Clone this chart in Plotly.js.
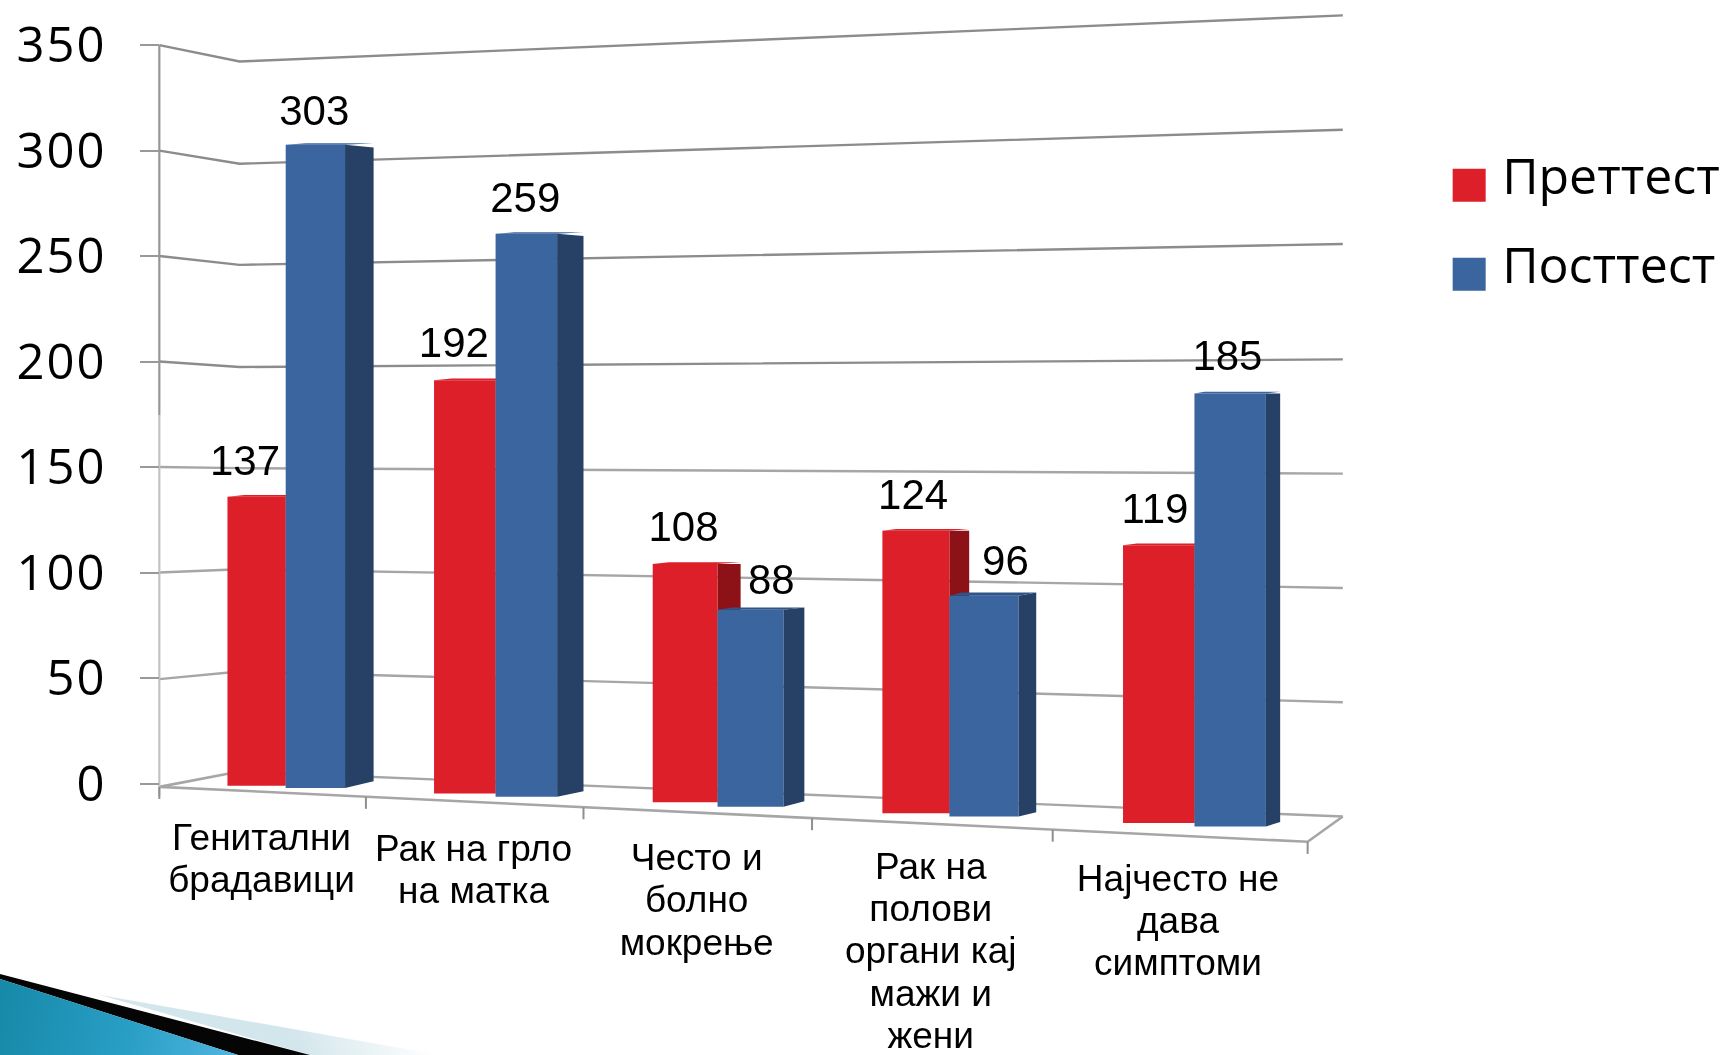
<!DOCTYPE html>
<html><head><meta charset="utf-8">
<script src="https://cdn.plot.ly/plotly-3.0.1.min.js"></script>
<style>
html,body{margin:0;padding:0;background:#fff;overflow:hidden}
#chart{width:1723px;height:1055px;filter:blur(0.4px)}
.ytick text{letter-spacing:2px}
</style></head><body><div id="chart"></div>
<script>
// ---- data ----
const categoryLines = [
  ['Генитални','брадавици'],
  ['Рак на грло','на матка'],
  ['Често и','болно','мокрење'],
  ['Рак на','полови','органи кај','мажи и','жени'],
  ['Најчесто не','дава','симптоми']
];
const pretest  = [137,192,108,124,119];
const posttest = [303,259,88,96,185];
const yTicks   = [0,50,100,150,200,250,300,350];
const seriesNames = ['Преттест','Посттест'];

// ---- perspective geometry (reference units: 1568 wide, 960 high) ----
const W = 1568, H = 960, ZERO = 713, UNIT = 1.92;
const Y = s => (ZERO - s) / UNIT;
const redPersp  = [1.0,1.02,1.046,1.08,1.107];
const bluePersp = [1.006,1.03,1.06,1.09,1.109];
const redL  = [207,395,594,803,1022];
const midX  = [260,451,653,864,1087];
const blueR = [314,507,713,927,1152];
const blueBack = [340,531,732,943,1165];
const redBack  = [282,474,674,882,1105];
const redBase  = [715,722,730,740,749];
const blueBase = [717,725,734,743,752];
const backRise = [-2.5,-2,2,3,0];
const baseRise = [6,5,5,4,4];
const labelRedX  = [223,413,622,831,1051];
const labelBlueX = [286,478,702,915,1117];
const labelRedDy  = [29,31,30,29,30];
const labelBlueDy = [28,29,24,28,31];
const wallX = [145,218,1222];
const gridAxis   = [713,618,521,425,329,233,137,41];
const gridCorner = [702,611,518,426,334,241,149,56];
const gridEnd    = [743,639,535,431,327,222,118,14];
const floorTicks = [145,333,531,739,958,1190];
const catCenter = [238,431,634,847,1072];
const catFirst  = [765,775,783,791,802];
const catStep   = 38.6;
const floorY = x => 716 + (x - 145) * 50 / 1045;

const RED='#dc1f28', BLUE='#3a659e', RED_S='#8c1218', BLUE_S='#264066', BLUE_T='#2e5488';
const noHover = {hoverinfo:'skip', showlegend:false};
const traces = [];

// floor and walls, on the base axes
gridAxis.forEach((g,i)=>{
  const xs = i === 0 ? wallX.slice(1) : wallX;
  const ys = i === 0 ? [gridCorner[i],gridEnd[i]] : [g,gridCorner[i],gridEnd[i]];
  traces.push(Object.assign({type:'scatter',mode:'lines',
    x:xs, y:ys.map(Y),
    line:{color:i>=4?'#8c8c8c':'#a6a6a6',width:2.4}},noHover));
});
traces.push(Object.assign({type:'scatter',mode:'lines',
  x:[218,145,1190,1222], y:[702,716,766,743].map(Y),
  line:{color:'#a6a6a6',width:2.6}},noHover));
traces.push(Object.assign({type:'scatter',mode:'lines',
  x:[145,145], y:[41,378].map(Y), line:{color:'#969696',width:2.2}},noHover));
traces.push(Object.assign({type:'scatter',mode:'lines',
  x:[145,145], y:[378,724].map(Y), line:{color:'#c2c2c2',width:2.2}},noHover));
floorTicks.forEach(x=>{
  traces.push(Object.assign({type:'scatter',mode:'lines',
    x:[x,x], y:[floorY(x),floorY(x)+11].map(Y), line:{color:'#8f8f8f',width:2}},noHover));
});

// the side of a bar, a parallelogram behind its front face
function side(x1,x2,top,base,rise,bRise,color,ax){
  return Object.assign({type:'scatter',mode:'lines',fill:'toself',fillcolor:color,
    line:{width:0,color:color},
    x:[x1,x2,x2,x1,x1], y:[top,top-rise,base-bRise,base,top].map(Y)},noHover,ax);
}
function topFace(x0,x1,x2,top,rise,color,ax){
  return Object.assign({type:'scatter',mode:'lines',fill:'toself',fillcolor:color,
    line:{width:0,color:color},
    x:[x0,x0+(x2-x1)*0.7,x2,x1,x0], y:[top,top-rise,top-rise,top,top].map(Y)},noHover,ax);
}
const redTop  = pretest.map((v,i)=>redBase[i]-v*redPersp[i]*UNIT);
const blueTop = posttest.map((v,i)=>blueBase[i]-v*bluePersp[i]*UNIT);

// red sides stay behind the bars
pretest.forEach((v,i)=>{
  traces.push(side(midX[i],redBack[i],redTop[i],redBase[i],0,5,RED_S,{}));
  traces.push(topFace(redL[i],midX[i],redBack[i],redTop[i],1.5,RED,{}));
});

const ov = {xaxis:'x2',yaxis:'y2'};
traces.push(Object.assign({type:'bar',name:seriesNames[0],
  x:pretest.map((v,i)=>(redL[i]+midX[i])/2), width:pretest.map((v,i)=>midX[i]-redL[i]),
  base:redBase.map(Y), y:pretest.map((v,i)=>v*redPersp[i]),
  marker:{color:RED,line:{width:0}},hoverinfo:'skip',showlegend:false},ov));
traces.push(Object.assign({type:'bar',name:seriesNames[1],
  x:posttest.map((v,i)=>(midX[i]+blueR[i])/2), width:posttest.map((v,i)=>blueR[i]-midX[i]),
  base:blueBase.map(Y), y:posttest.map((v,i)=>v*bluePersp[i]),
  marker:{color:BLUE,line:{width:0}},hoverinfo:'skip',showlegend:false},ov));
posttest.forEach((v,i)=>{
  traces.push(topFace(midX[i],blueR[i],blueBack[i],blueTop[i],Math.max(backRise[i],1.5),i>=2&&i<=3?BLUE_T:BLUE,ov));
  traces.push(side(blueR[i],blueBack[i],blueTop[i],blueBase[i],backRise[i],baseRise[i],BLUE_S,ov));
});

// value labels
const labelFont = {family:'Liberation Sans, Arial, sans-serif',size:42,color:'#000'};
traces.push(Object.assign({type:'scatter',mode:'text',textposition:'middle center',
  x:labelRedX, y:redTop.map((t,i)=>Y(t-labelRedDy[i])), text:pretest.map(String), textfont:labelFont},noHover,ov));
traces.push(Object.assign({type:'scatter',mode:'text',textposition:'middle center',
  x:labelBlueX, y:blueTop.map((t,i)=>Y(t-labelBlueDy[i])), text:posttest.map(String), textfont:labelFont},noHover,ov));

// category labels
categoryLines.forEach((lines,c)=>{
  traces.push(Object.assign({type:'scatter',mode:'text',textposition:'middle center',
    x:lines.map(()=>catCenter[c]), y:lines.map((l,i)=>Y(catFirst[c]+i*catStep)), text:lines,
    textfont:{family:'Liberation Sans, Arial, sans-serif',size:37,color:'#000'}},noHover,ov));
});

// key
const legendX = 1337, legendTextX = 1367, legendY = [168.5,249.5], legendColors=[RED,BLUE];
seriesNames.forEach((n,i)=>{
  traces.push(Object.assign({type:'scatter',mode:'markers',x:[legendX],y:[Y(legendY[i])],
    marker:{symbol:'square',size:33,color:legendColors[i]}},noHover,ov));
  traces.push(Object.assign({type:'scatter',mode:'text',textposition:'middle right',
    x:[legendTextX],y:[Y(legendY[i]-3)],text:[n],
    textfont:{family:'Open Sans, sans-serif',size:50,color:'#000'}},noHover,ov));
});

const swoosh = `<svg xmlns="http://www.w3.org/2000/svg" width="1723" height="1055" viewBox="0 0 1723 1055">
<defs>
<linearGradient id="b" gradientUnits="userSpaceOnUse" x1="0" y1="1010" x2="240" y2="1055"><stop offset="0" stop-color="#178aa9"/><stop offset="0.55" stop-color="#2a9fc6"/><stop offset="1" stop-color="#52b6df"/></linearGradient>
<linearGradient id="w" gradientUnits="userSpaceOnUse" x1="300" y1="1055" x2="420" y2="1010"><stop offset="0" stop-color="#d3e6ec"/><stop offset="1" stop-color="#ffffff"/></linearGradient>
</defs>
<polygon points="100,995 310,1055 440,1055" fill="url(#w)"/>
<polygon points="0,974 310,1055 238,1055 0,979" fill="#050505"/>
<polygon points="0,979 238,1055 0,1055" fill="url(#b)"/>
</svg>`;

const yRange = [Y(H), Y(0)];
const layout = {
  width:1723,height:1055,margin:{l:0,r:0,t:0,b:0},
  paper_bgcolor:'rgba(0,0,0,0)',plot_bgcolor:'rgba(0,0,0,0)',
  showlegend:false,hovermode:false,barmode:'overlay',dragmode:false,
  xaxis:{range:[0,W],visible:false,fixedrange:true},
  yaxis:{range:yRange,anchor:'free',position:145/W,side:'left',fixedrange:true,
    tickmode:'array',tickvals:yTicks,ticktext:yTicks.map(String),
    ticks:'outside',ticklen:19,tickwidth:2,tickcolor:'#999999',
    ticklabelstandoff:24,showgrid:false,zeroline:false,showline:false,
    tickfont:{family:'Open Sans, sans-serif',size:49,color:'#000'}},
  xaxis2:{range:[0,W],visible:false,overlaying:'x',fixedrange:true},
  yaxis2:{range:yRange,visible:false,overlaying:'y',fixedrange:true},
  images:[{source:'data:image/svg+xml;charset=utf-8,'+encodeURIComponent(swoosh),
    xref:'paper',yref:'paper',x:0,y:1,sizex:1,sizey:1,xanchor:'left',yanchor:'top',
    sizing:'stretch',layer:'below'}]
};
Plotly.newPlot('chart',traces,layout,{displayModeBar:false,staticPlot:true});
</script></body></html>
